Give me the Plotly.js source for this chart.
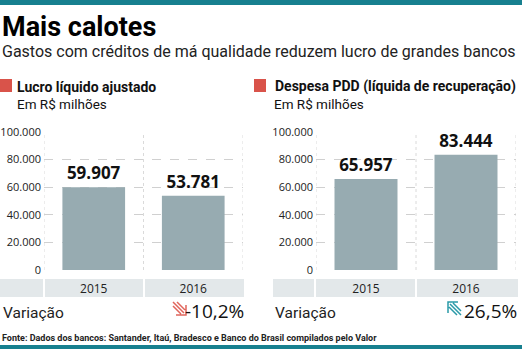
<!DOCTYPE html>
<html><head><meta charset="utf-8">
<script src="https://cdn.plot.ly/plotly-3.0.1.min.js"></script>
<style>html,body{margin:0;padding:0;background:#fff;}#c{width:522px;height:349px;}</style>
</head><body><div id="c"></div>
<script>
const years = ["2015", "2016"];
const lucro = [59907, 53781];
const pdd = [65957, 83444];
const lucroLabels = ["59.907", "53.781"];
const pddLabels = ["65.957", "83.444"];
const tickVals = [0, 20000, 40000, 60000, 80000, 100000];
const tickText = ["0", "20.000", "40.000", "60.000", "80.000", "100.000"];
const variacao = ["-10,2%", "26,5%"];

const barColor = "#97abb1";
const cond = "Roboto, sans-serif";
const yDom = [1 - 270/349, 1 - 132/349];
const x1Dom = [44/522, 243/522];
const x2Dom = [316/522, 516/522];

const traces = [
  {type:"bar", x: years, y: lucro, xaxis:"x", yaxis:"y", marker:{color:barColor}, width:0.63,
   text: lucroLabels, textposition:"outside", cliponaxis:false,
   textfont:{family:"Open Sans, sans-serif", size:17, color:"#111", weight:700}, hoverinfo:"none"},
  {type:"bar", x: years, y: pdd, xaxis:"x2", yaxis:"y2", marker:{color:barColor}, width:0.63,
   text: pddLabels, textposition:"outside", cliponaxis:false,
   textfont:{family:"Open Sans, sans-serif", size:17, color:"#111", weight:700}, hoverinfo:"none"}
];

function yax(anchor){
  return {domain:yDom, range:[0,100000], anchor:anchor, tickvals:tickVals, ticktext:tickText,
    showgrid:true, gridcolor:"#d0d0d0", griddash:"dash", gridwidth:1, zeroline:false,
    showline:false, ticks:"", tickfont:{family:"Open Sans, sans-serif", size:11, color:"#222"},
    ticklabelstandoff:2, fixedrange:true};
}
function xax(dom, anchor){
  return {domain:dom, anchor:anchor, type:"category", range:[-0.5,1.5], showgrid:false,
    showline:false, ticks:"", zeroline:false, tickfont:{family:"Open Sans, sans-serif", size:12, color:"#222"},
    ticklabelstandoff:10, fixedrange:true};
}

const band = "#e3e8ea";
const P = (px)=>1-px/349;
const Xp = (px)=>px/522;
function rect(x0,x1,y0,y1,color,layer){
  return {type:"rect", xref:"paper", yref:"paper", x0:Xp(x0), x1:Xp(x1), y0:P(y1), y1:P(y0),
          fillcolor:color, line:{width:0}, layer:layer||"below"};
}
function path(pts, color){
  const d = pts.map(pl => pl.map((p,i)=>(i?"L":"M")+Xp(p[0]).toFixed(5)+","+P(p[1]).toFixed(5)).join(" ")).join(" ");
  return {type:"path", xref:"paper", yref:"paper", path:d, line:{color:color, width:1.5}, fillcolor:"rgba(0,0,0,0)", layer:"above"};
}
const shapes = [
  rect(0,522,0,5,"#17808f"),
  rect(0,522,345,349,"#17808f"),
  rect(0,12,79,92,"#d9534a"),
  rect(254,266,79,92,"#d9534a"),
  rect(0,43,279,297,band), rect(45,143,279,297,band), rect(145,244,279,297,band),
  rect(273,314,279,297,band), rect(316,415,279,297,band), rect(417,518,279,297,band),
  // down-right arrow icon
  path([[[173,302],[184,313]], [[173,306],[181,314]], [[177,302],[185,310]], [[176,315],[186,315],[186,305]]], "#e0655c"),
  // up-left arrow icon
  path([[[461,315],[450,304]], [[461,311],[453,303]], [[457,315],[449,307]], [[448,313],[448,302],[458,302]]], "#2a9aa8")
];
[["x","y"],["x2","y2"]].forEach(([xa,ya])=>{
  [-0.5,0.5,1.5].forEach(v=>{
    shapes.push({type:"line", xref:xa, yref:ya+" domain", x0:v, x1:v, y0:0, y1:1,
      line:{color:"#dadada", width:1, dash:"dot"}, layer:"below"});
  });
});

function ann(text,x,y,xanchor,font){
  return {text:text, x:Xp(x), y:P(y), xref:"paper", yref:"paper", xanchor:xanchor, yanchor:"middle",
          showarrow:false, font:font};
}
const annotations = [
  ann("<b>Mais calotes</b>", 0, 27, "left", {family:"Roboto, 'DejaVu Sans', sans-serif", size:27, color:"#000", weight:900}),
  ann("Gastos com créditos de má qualidade reduzem lucro de grandes bancos", 0, 51, "left", {family:cond, size:16, color:"#222"}),
  ann("<b>Lucro líquido ajustado</b>", 15, 87, "left", {family:cond, size:14, color:"#111"}),
  ann("Em R$ milhões", 15, 104, "left", {family:cond, size:13.5, color:"#111"}),
  ann("<b>Despesa PDD (líquida de recuperação)</b>", 273, 87, "left", {family:cond, size:14, color:"#111"}),
  ann("Em R$ milhões", 272, 104, "left", {family:cond, size:13.5, color:"#111"}),
  ann("Variação", 1, 313, "left", {family:cond, size:15.5, color:"#222"}),
  ann("Variação", 273, 313, "left", {family:cond, size:15.5, color:"#222"}),
  ann(variacao[0], 246, 311, "right", {family:"Open Sans, sans-serif", size:19, color:"#111"}),
  ann(variacao[1], 519, 311, "right", {family:"Open Sans, sans-serif", size:19, color:"#111"}),
  ann("<b>Fonte: Dados dos bancos: Santander, Itaú, Bradesco e Banco do Brasil compilados pelo Valor</b>", 0, 338, "left",
      {family:cond, size:9, color:"#222"})
];

const layout = {
  width:522, height:349, margin:{l:0,r:0,t:0,b:0}, paper_bgcolor:"#fff", plot_bgcolor:"rgba(0,0,0,0)",
  showlegend:false,
  xaxis: xax(x1Dom, "y"), yaxis: yax("x"),
  xaxis2: xax(x2Dom, "y2"), yaxis2: yax("x2"),
  shapes: shapes, annotations: annotations
};
Plotly.newPlot("c", traces, layout, {displayModeBar:false, staticPlot:true});
</script></body></html>
